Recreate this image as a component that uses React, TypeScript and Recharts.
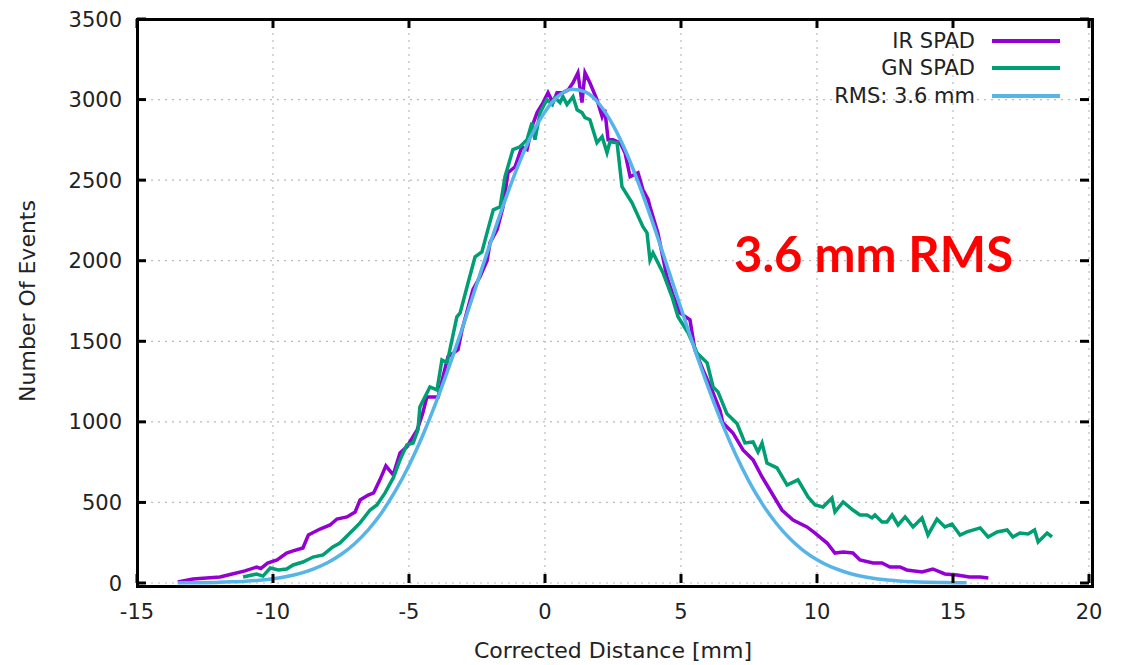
import { LineChart, Line, XAxis, YAxis, CartesianGrid } from 'recharts'

// IR SPAD histogram
const irDistance = [
  -13.5, -12.94, -11.95, -11.5, -11.03, -10.6, -10.45, -10.2, -9.85, -9.5, -9.26, -8.9, -8.7, -8.27, -7.9,
  -7.65, -7.28, -6.98, -6.8, -6.5, -6.3, -6.07, -5.85, -5.58, -5.33, -5.08, -4.7, -4.5, -4.34, -3.93,
  -3.57, -3.2, -3.05, -2.65, -2.39, -2.13, -2.02, -1.76, -1.54, -1.36, -1.1, -0.85, -0.66, -0.48, -0.29,
  -0.07, 0.11, 0.29, 0.44, 0.66, 0.85, 1.03, 1.21, 1.36, 1.47, 1.65, 1.91, 2.1, 2.2, 2.32, 2.5, 2.76,
  2.94, 3.13, 3.42, 3.6, 3.79, 3.86, 4.15, 4.48, 4.7, 4.96, 5.33, 5.51, 5.81, 6.18, 6.43, 6.54, 6.91,
  7.28, 7.65, 7.98, 8.27, 8.71, 9.12, 9.63, 9.93, 10.37, 10.66, 10.96, 11.32, 11.58, 12.06, 12.39, 12.68,
  13.05, 13.3, 13.86, 14.26, 14.7, 15.15, 15.6, 16.0, 16.3,
]
const irEvents = [
  6, 25, 37, 56, 75, 99, 90, 124, 143, 186, 199, 217, 298, 335, 360,
  397, 410, 441, 515, 546, 559, 640, 727, 671, 807, 845, 950, 1050, 1155, 1155,
  1404, 1447, 1571, 1820, 1900, 2000, 2112, 2193, 2335, 2546, 2583, 2707, 2690, 2832, 2919,
  2981, 3043, 2981, 3043, 3043, 3060, 3104, 3166, 2981, 3166, 3104, 3000, 2894, 2937, 2751, 2751, 2732,
  2670, 2521, 2546, 2440, 2380, 2335, 2173, 1900, 1790, 1676, 1633, 1447, 1322, 1180, 1074, 994, 931,
  826, 764, 658, 577, 453, 391, 348, 310, 248, 186, 193, 186, 143, 124, 124, 99,
  100, 81, 68, 87, 56, 50, 37, 37, 31,
]

// GN SPAD histogram
const gnDistance = [
  -11.1, -10.6, -10.37, -10.1, -9.8, -9.5, -9.26, -8.9, -8.53, -8.16, -7.8, -7.54, -7.17, -6.8, -6.43,
  -6.18, -5.88, -5.58, -5.33, -5.08, -4.85, -4.67, -4.6, -4.23, -3.97, -3.79, -3.6, -3.24, -3.12, -2.83,
  -2.57, -2.32, -2.1, -1.9, -1.65, -1.47, -1.18, -0.92, -0.66, -0.48, -0.37, -0.18, 0.07, 0.26, 0.37,
  0.55, 0.66, 0.81, 1.03, 1.18, 1.36, 1.47, 1.65, 1.91, 2.1, 2.28, 2.39, 2.65, 2.83, 3.2, 3.6, 3.75,
  3.86, 3.97, 4.34, 4.67, 4.89, 5.26, 5.59, 5.96, 6.18, 6.36, 6.69, 7.06, 7.35, 7.65, 7.83, 7.98, 8.16,
  8.53, 8.9, 9.3, 9.67, 9.93, 10.22, 10.55, 10.66, 10.96, 11.32, 11.58, 11.84, 12.02, 12.13, 12.39, 12.57,
  12.76, 12.98, 13.24, 13.53, 13.86, 14.08, 14.41, 14.7, 14.96, 15.26, 15.51, 16.0, 16.29, 16.62, 16.99,
  17.2, 17.46, 17.76, 18.0, 18.13, 18.46, 18.64,
]
const gnEvents = [
  37, 56, 43, 93, 81, 87, 112, 130, 161, 174, 224, 248, 310, 373, 453,
  484, 559, 652, 764, 857, 869, 950, 1093, 1217, 1198, 1384, 1366, 1652, 1676, 1862,
  2024, 2055, 2193, 2316, 2335, 2521, 2690, 2707, 2751, 2857, 2751, 2919, 3000, 2969, 3012,
  2981, 3018, 2969, 3018, 2937, 2919, 2888, 2875, 2732, 2770, 2670, 2738, 2732, 2459, 2359, 2211, 2173,
  2005, 2049, 1924, 1776, 1652, 1553, 1428, 1366, 1217, 1186, 1050, 990, 869, 875, 813, 869, 745,
  714, 608, 640, 534, 484, 472, 528, 441, 503, 453, 422, 422, 404, 422, 379, 379,
  422, 360, 410, 348, 404, 298, 397, 348, 366, 298, 317, 342, 286, 317, 329,
  286, 310, 304, 329, 255, 310, 286,
]

// gaussian fit curve (RMS 3.6 mm)
const fitDistance = [
  -13.5, -13, -12.5, -12, -11.5, -11, -10.5, -10, -9.5, -9, -8.5, -8, -7.5, -7, -6.5, -6, -5.5, -5,
  -4.5, -4, -3.5, -3, -2.5, -2, -1.5, -1, -0.5, 0, 0.5, 1, 1.5, 2, 2.5, 3, 3.5, 4, 4.5, 5, 5.5, 6,
  6.5, 7, 7.5, 8, 8.5, 9, 9.5, 10, 10.5, 11, 11.5, 12, 12.5, 13, 13.5, 14, 14.5, 15, 15.5,
]
const fitEvents = [
  1, 1, 2, 4, 7, 11, 17, 26, 40, 60, 88, 126, 177, 244, 330, 438, 571, 729,
  914, 1124, 1355, 1602, 1859, 2115, 2361, 2586, 2777, 2925, 3023, 3064, 3046, 2971, 2842, 2667, 2454, 2216, 1962, 1705, 1452, 1214,
  995, 800, 631, 488, 371, 276, 201, 144, 101, 70, 47, 31, 20, 13, 8, 5, 3, 2, 1,
]

const xTicks = [-15, -10, -5, 0, 5, 10, 15, 20]
const yTicks = [0, 500, 1000, 1500, 2000, 2500, 3000, 3500]

const series = [
  { name: 'IR SPAD', color: '#9400d3', xs: irDistance, ys: irEvents, curve: 'linear' as const },
  { name: 'GN SPAD', color: '#009e73', xs: gnDistance, ys: gnEvents, curve: 'linear' as const },
  { name: 'RMS: 3.6 mm', color: '#56b4e9', xs: fitDistance, ys: fitEvents, curve: 'monotone' as const },
]

const FONT = '"DejaVu Sans", sans-serif'
const TEXT = '#222'

// plot box (gnuplot-style frame with inward mirrored ticks)
const W = 1127
const H = 665
const LEFT = 137
const RIGHT = 1089
const TOP = 19
const BOTTOM = 583
const TICK = 9

function XTick({ x, y, payload }: any) {
  return (
    <g>
      <line x1={x} x2={x} y1={BOTTOM} y2={BOTTOM - TICK} stroke="#000" strokeWidth={3} />
      <line x1={x} x2={x} y1={TOP} y2={TOP + TICK} stroke="#000" strokeWidth={3} />
      <text x={x} y={y} dy="0.71em" textAnchor="middle" fill={TEXT} fontSize={21} fontFamily={FONT}>
        {payload.value}
      </text>
    </g>
  )
}

function YTick({ x, y, payload }: any) {
  return (
    <g>
      <line x1={LEFT} x2={LEFT + TICK} y1={y} y2={y} stroke="#000" strokeWidth={3} />
      <line x1={RIGHT} x2={RIGHT - TICK} y1={y} y2={y} stroke="#000" strokeWidth={3} />
      <text x={x} y={y} dy="0.36em" textAnchor="end" fill={TEXT} fontSize={21} fontFamily={FONT}>
        {payload.value}
      </text>
    </g>
  )
}

export default function App() {
  return (
    <div style={{ position: 'fixed', left: 0, top: 0, width: W, height: H, background: '#fff' }}>
      <LineChart
        width={W}
        height={H}
        margin={{ top: TOP, right: W - RIGHT, bottom: 0, left: 0 }}
      >
        <CartesianGrid stroke="#bbb" strokeDasharray="2 5" strokeWidth={1.2} />
        <XAxis
          type="number"
          dataKey="x"
          domain={[-15, 20]}
          ticks={xTicks}
          allowDataOverflow
          height={H - BOTTOM}
          axisLine={false}
          tickLine={false}
          tickSize={0}
          tickMargin={21}
          tick={<XTick />}
          label={{
            value: 'Corrected Distance [mm]',
            position: 'insideBottom',
            offset: 7,
            style: { fill: TEXT, fontSize: 22, fontFamily: FONT },
          }}
        />
        <YAxis
          type="number"
          domain={[0, 3500]}
          ticks={yTicks}
          width={LEFT}
          axisLine={false}
          tickLine={false}
          tickSize={0}
          tickMargin={15}
          tick={<YTick />}
          label={{
            value: 'Number Of Events',
            angle: -90,
            position: 'insideLeft',
            offset: 27,
            style: { fill: TEXT, fontSize: 22, fontFamily: FONT, textAnchor: 'middle' },
          }}
        />
        {series.map((s) => (
          <Line
            key={s.name}
            name={s.name}
            data={s.xs.map((x, i) => ({ x, y: s.ys[i] }))}
            dataKey="y"
            type={s.curve}
            stroke={s.color}
            strokeWidth={3.5}
            dot={false}
            activeDot={false}
            isAnimationActive={false}
          />
        ))}
      </LineChart>

      {/* frame */}
      <div
        style={{
          position: 'absolute',
          left: LEFT - 1.5,
          top: TOP - 1.5,
          width: RIGHT - LEFT,
          height: BOTTOM - TOP,
          border: '3px solid #000',
          pointerEvents: 'none',
        }}
      />

      <div style={{ position: 'absolute', left: 700, top: 27, width: 360, fontFamily: FONT, fontSize: 21, color: TEXT }}>
        {series.map((s) => (
          <div key={s.name} style={{ display: 'flex', alignItems: 'center', justifyContent: 'flex-end', height: 27.5 }}>
            <span style={{ marginRight: 17 }}>{s.name}</span>
            <span style={{ display: 'inline-block', width: 68, height: 4, background: s.color }} />
          </div>
        ))}
      </div>

      <div
        style={{
          position: 'absolute',
          left: 734,
          top: 224,
          fontFamily: 'Lato, "Open Sans", sans-serif',
          fontWeight: 700,
          fontSize: 49,
          color: '#ff0000',
          whiteSpace: 'nowrap',
        }}
      >
        3.6 mm RMS
      </div>
    </div>
  )
}
